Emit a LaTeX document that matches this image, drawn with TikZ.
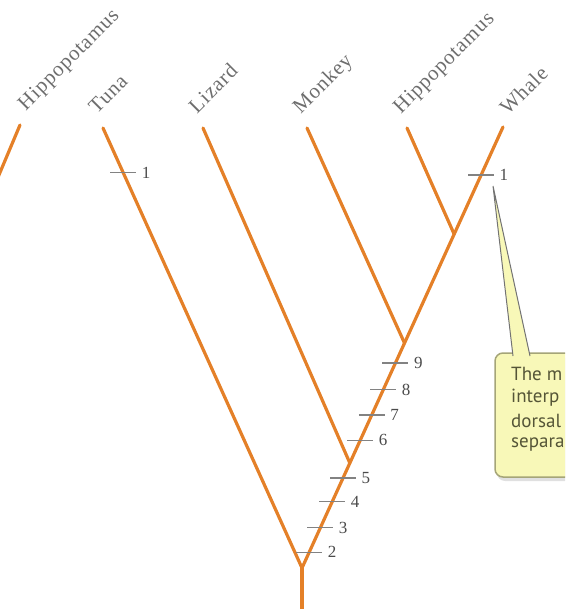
\documentclass[tikz,border=0pt]{standalone}
\usepackage{fontspec}
\setmainfont{Liberation Serif}
\newfontfamily\labfont[LetterSpace=4]{Liberation Serif}
\newfontfamily\boxfont{PT Sans}
\usetikzlibrary{calc}
\definecolor{branch}{RGB}{228,128,40}
\definecolor{labgray}{RGB}{110,110,110}
\definecolor{tickgray}{RGB}{130,130,130}
\definecolor{numgray}{RGB}{75,75,75}
\definecolor{boxfill}{RGB}{248,248,184}
\definecolor{boxline}{RGB}{165,165,120}
\definecolor{boxtext}{RGB}{85,85,55}
\tikzset{
  br/.style={draw=branch, line width=3.2pt, line cap=round},
  lab/.style={rotate=45, anchor=base west, inner sep=0pt, text=labgray,
    font=\labfont\fontsize{21}{21}\selectfont},
  tk/.style={draw=tickgray, line width=1.2pt},
  num/.style={anchor=west, inner sep=0pt, xshift=5pt, text=numgray,
    font=\fontsize{17}{17}\selectfont},
  btext/.style={anchor=west, inner sep=0pt, text=boxtext,
    font=\boxfont\fontsize{19}{19}\selectfont}
}
\begin{document}
\begin{tikzpicture}[x=1pt,y=1pt]
\useasboundingbox (0,0) rectangle (565,-609);
\clip (0,0) rectangle (565,-609);
% coordinates
\coordinate (base) at (302,-615);
\coordinate (root) at (302,-568);
\coordinate (whaletop) at (503,-127);
\coordinate (tunatop) at (103,-128);
\coordinate (lizardtop) at (203,-128);
\coordinate (monkeytop) at (307,-128);
\coordinate (hippotop) at (407,-128);
\coordinate (lhippotop) at (20,-125);
\coordinate (lhippoend) at (-12,-201);
\path (root) -- (whaletop)
  coordinate[pos=0.238] (lizardnode)
  coordinate[pos=0.510] (monkeynode)
  coordinate[pos=0.757] (hipponode)
  coordinate[pos=0.036] (t2)
  coordinate[pos=0.091] (t3)
  coordinate[pos=0.150] (t4)
  coordinate[pos=0.204] (t5)
  coordinate[pos=0.290] (t6)
  coordinate[pos=0.347] (t7)
  coordinate[pos=0.404] (t8)
  coordinate[pos=0.465] (t9)
  coordinate[pos=0.891] (tw);
\path (root) -- (tunatop) coordinate[pos=0.898] (tt);
% branches
\draw[br] (base) -- (root);
\draw[br] (root) -- (tunatop);
\draw[br] (root) -- (whaletop);
\draw[br] (lizardnode) -- (lizardtop);
\draw[br] (monkeynode) -- (monkeytop);
\draw[br] (hipponode) -- (hippotop);
\draw[br] (lhippoend) -- (lhippotop);
% labels
\node[lab] (lhippo) at ($(lhippotop)!-15pt!(lhippoend)$) {Hippopotamus};
\node[lab] (tuna) at ($(tunatop)!-15pt!(root)$) {Tuna};
\node[lab] (lizard) at ($(lizardtop)!-15pt!(lizardnode)$) {Lizard};
\node[lab] (monkey) at ($(monkeytop)!-15pt!(monkeynode)$) {Monkey};
\node[lab] (hippo) at ($(hippotop)!-15pt!(hipponode)$) {Hippopotamus};
\node[lab] (whale) at ($(whaletop)!-12pt!(root)$) {Whale};
% ticks
\foreach \t/\n in {t2/2,t3/3,t4/4,t5/5,t6/6,t7/7,t8/8,t9/9,tw/1,tt/1}{
  \draw[tk] ($(\t)+(-13,0)$) -- ($(\t)+(13,0)$) node[num] (n\t) {\n};
}
% callout
\coordinate (tip) at (493,-186);
\coordinate (pl) at (513,-356);
\coordinate (pr) at (530,-356);
\fill[black!12, rounded corners=8pt] (497,-358) rectangle (600,-481);
\draw[fill=boxfill, draw=boxline, line width=1.5pt, rounded corners=8pt]
  (495,-353) rectangle (600,-477);
\fill[boxfill] (tip) -- (pr) -- (pl) -- cycle;
\draw[draw=black!55, line width=1pt] (pl) -- (tip) -- (pr);
\node[btext] (l1) at (511,-374) {The m};
\node[btext] (l2) at (511,-398) {interp};
\node[btext] (l3) at (511,-421) {dorsal};
\node[btext] (l4) at (511,-445) {separa};
\end{tikzpicture}
\end{document}
